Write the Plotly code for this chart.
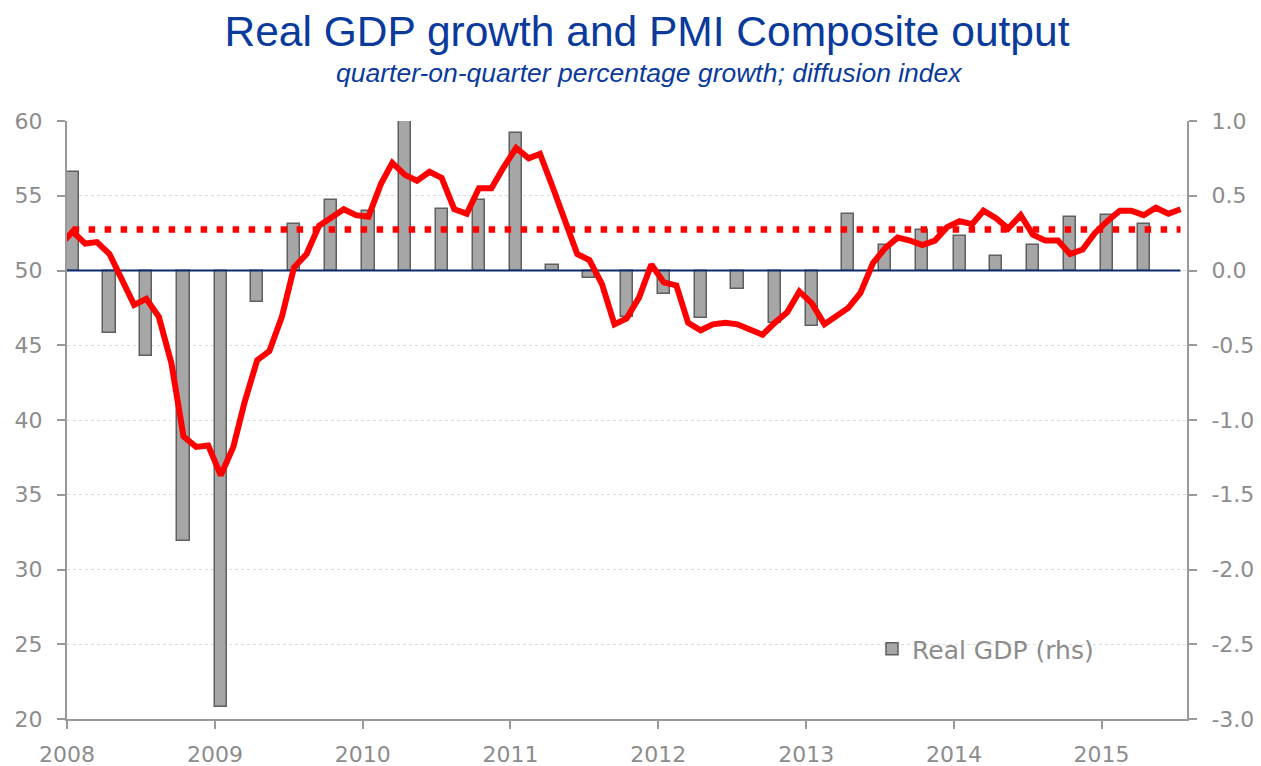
import pandas as pd
import plotly.graph_objects as go

# ---------------- data ----------------
# Monthly PMI Composite output (diffusion index); first value (Dec 2007) lies just left of the axis
pmi_months = (pd.date_range("2007-12-01", "2015-07-01", freq="MS") + pd.Timedelta(days=14)).tolist()
pmi_values = [
    51.7,
    52.6, 51.8, 51.9, 51.1, 49.4, 47.7, 48.1, 46.9, 43.8, 38.9, 38.2, 38.3,
    36.3, 38.2, 41.2, 44.0, 44.6, 46.9, 50.2, 51.1, 53.0, 53.6, 54.1, 53.7,
    53.6, 55.8, 57.2, 56.4, 56.0, 56.6, 56.2, 54.1, 53.8, 55.5, 55.5, 56.9,
    58.2, 57.5, 57.8, 55.6, 53.3, 51.1, 50.7, 49.1, 46.4, 46.8, 48.2, 50.4,
    49.2, 49.0, 46.5, 46.0, 46.4, 46.5, 46.4, 46.1, 45.7, 46.5, 47.2, 48.6,
    47.8, 46.4, 46.9, 47.5, 48.5, 50.5, 51.5, 52.2, 52.0, 51.7, 52.0, 52.9,
    53.3, 53.1, 54.0, 53.5, 52.8, 53.7, 52.4, 52.0, 52.0, 51.1, 51.4, 52.5,
    53.3, 54.0, 54.0, 53.7, 54.2, 53.8, 54.1,
]
# PMI reference level (dotted line)
pmi_reference = 52.75

# Quarterly real GDP growth, q-o-q % (rhs), 2008Q1 - 2015Q2
gdp_quarters = (pd.date_range("2008-01-01", "2015-04-01", freq="QS") + pd.Timedelta(days=14)).tolist()
gdp_values = [0.66, -0.42, -0.57, -1.81, -2.92, -0.21, 0.31, 0.47, 0.40, 1.00,
              0.41, 0.47, 0.92, 0.04, -0.05, -0.31, -0.16, -0.32, -0.125, -0.35,
              -0.37, 0.375, 0.17, 0.27, 0.23, 0.10, 0.17, 0.355, 0.37, 0.31]

year_ticks = ["2008", "2009", "2010", "2011", "2012", "2013", "2014", "2015"]
left_ticks = [20, 25, 30, 35, 40, 45, 50, 55, 60]
right_ticks = [-3.0, -2.5, -2.0, -1.5, -1.0, -0.5, 0.0, 0.5, 1.0]

# ---------------- styles ----------------
AXIS_GREY = "#999999"
TICK_FONT = dict(family="DejaVu Sans", size=22, color="#8c8c8c")
BLUE = "#0a3a9c"
W, H = 1253, 758          # page body has an 8px margin
L, T, PW, PH = 59, 113, 1120, 598

fig = go.Figure()

fig.add_trace(go.Bar(
    x=gdp_quarters, y=gdp_values, yaxis="y",
    width=30 * 86400000,
    marker=dict(color="#a6a6a6", line=dict(color="#5f5f5f", width=1.5)),
    name="Real GDP (rhs)", showlegend=True,
))

# zero line of the GDP axis
fig.add_trace(go.Scatter(
    x=[pmi_months[0], pmi_months[-1]], y=[0, 0], yaxis="y",
    mode="lines", line=dict(color="#0d2a6b", width=2.2),
    showlegend=False, hoverinfo="skip",
))

fig.add_trace(go.Scatter(
    x=pmi_months[1:], y=[pmi_reference] * len(pmi_months[1:]), yaxis="y2",
    mode="lines", line=dict(color="#ff0000", width=6.5, dash="6.5px,9.5px"),
    showlegend=False, name="reference",
))

fig.add_trace(go.Scatter(
    x=pmi_months, y=pmi_values, yaxis="y2",
    mode="lines", line=dict(color="#ff0000", width=6),
    showlegend=False, name="PMI Composite output",
))

fig.update_layout(
    width=W, height=H,
    margin=dict(l=L, r=W - L - PW, t=T, b=H - T - PH, autoexpand=False),
    paper_bgcolor="white", plot_bgcolor="white",
    bargap=0,
    title=dict(
        text="Real GDP growth and PMI Composite output",
        x=639 / W, xanchor="center", y=1 - 23 / H, yanchor="middle",
        automargin=False,
        font=dict(family="Liberation Sans", size=42.5, color=BLUE),
    ),
    annotations=[dict(
        text="<i>quarter-on-quarter percentage growth; diffusion index</i>",
        xref="paper", yref="paper", x=(649 - 67) / PW, y=(719 - 73) / PH,
        xanchor="center", yanchor="middle", showarrow=False,
        font=dict(family="Liberation Sans", size=26.5, color=BLUE),
    )],
    xaxis=dict(
        type="date", range=["2008-01-01", "2015-07-31"], automargin=False,
        tickvals=[y + "-01-01" for y in year_ticks], ticktext=year_ticks,
        showgrid=False, zeroline=False,
        showline=True, linecolor=AXIS_GREY, linewidth=2,
        ticks="outside", ticklen=8, tickwidth=2, tickcolor=AXIS_GREY,
        tickfont=TICK_FONT, ticklabelstandoff=7,
    ),
    yaxis=dict(
        side="right", range=[-3, 1], automargin=False,
        tickvals=right_ticks, ticktext=[f"{v:.1f}" for v in right_ticks],
        showgrid=True, gridcolor="#dcdcdc", gridwidth=1, griddash="dot",
        zeroline=False,
        showline=True, linecolor=AXIS_GREY, linewidth=2,
        ticks="outside", ticklen=8, tickwidth=2, tickcolor=AXIS_GREY,
        tickfont=TICK_FONT, ticklabelstandoff=10,
    ),
    yaxis2=dict(
        side="left", overlaying="y", range=[20, 60], automargin=False,
        tickvals=left_ticks, ticktext=[str(v) for v in left_ticks],
        showgrid=False, zeroline=False,
        showline=True, linecolor=AXIS_GREY, linewidth=2,
        ticks="outside", ticklen=8, tickwidth=2, tickcolor=AXIS_GREY,
        tickfont=TICK_FONT, ticklabelstandoff=10,
    ),
    legend=dict(
        x=(872 - 67) / PW, y=(719 - 649) / PH, xanchor="left", yanchor="middle",
        bgcolor="rgba(0,0,0,0)", font=dict(family="DejaVu Sans", size=25, color="#8c8c8c"),
    ),
)

fig.write_html("out.html")
